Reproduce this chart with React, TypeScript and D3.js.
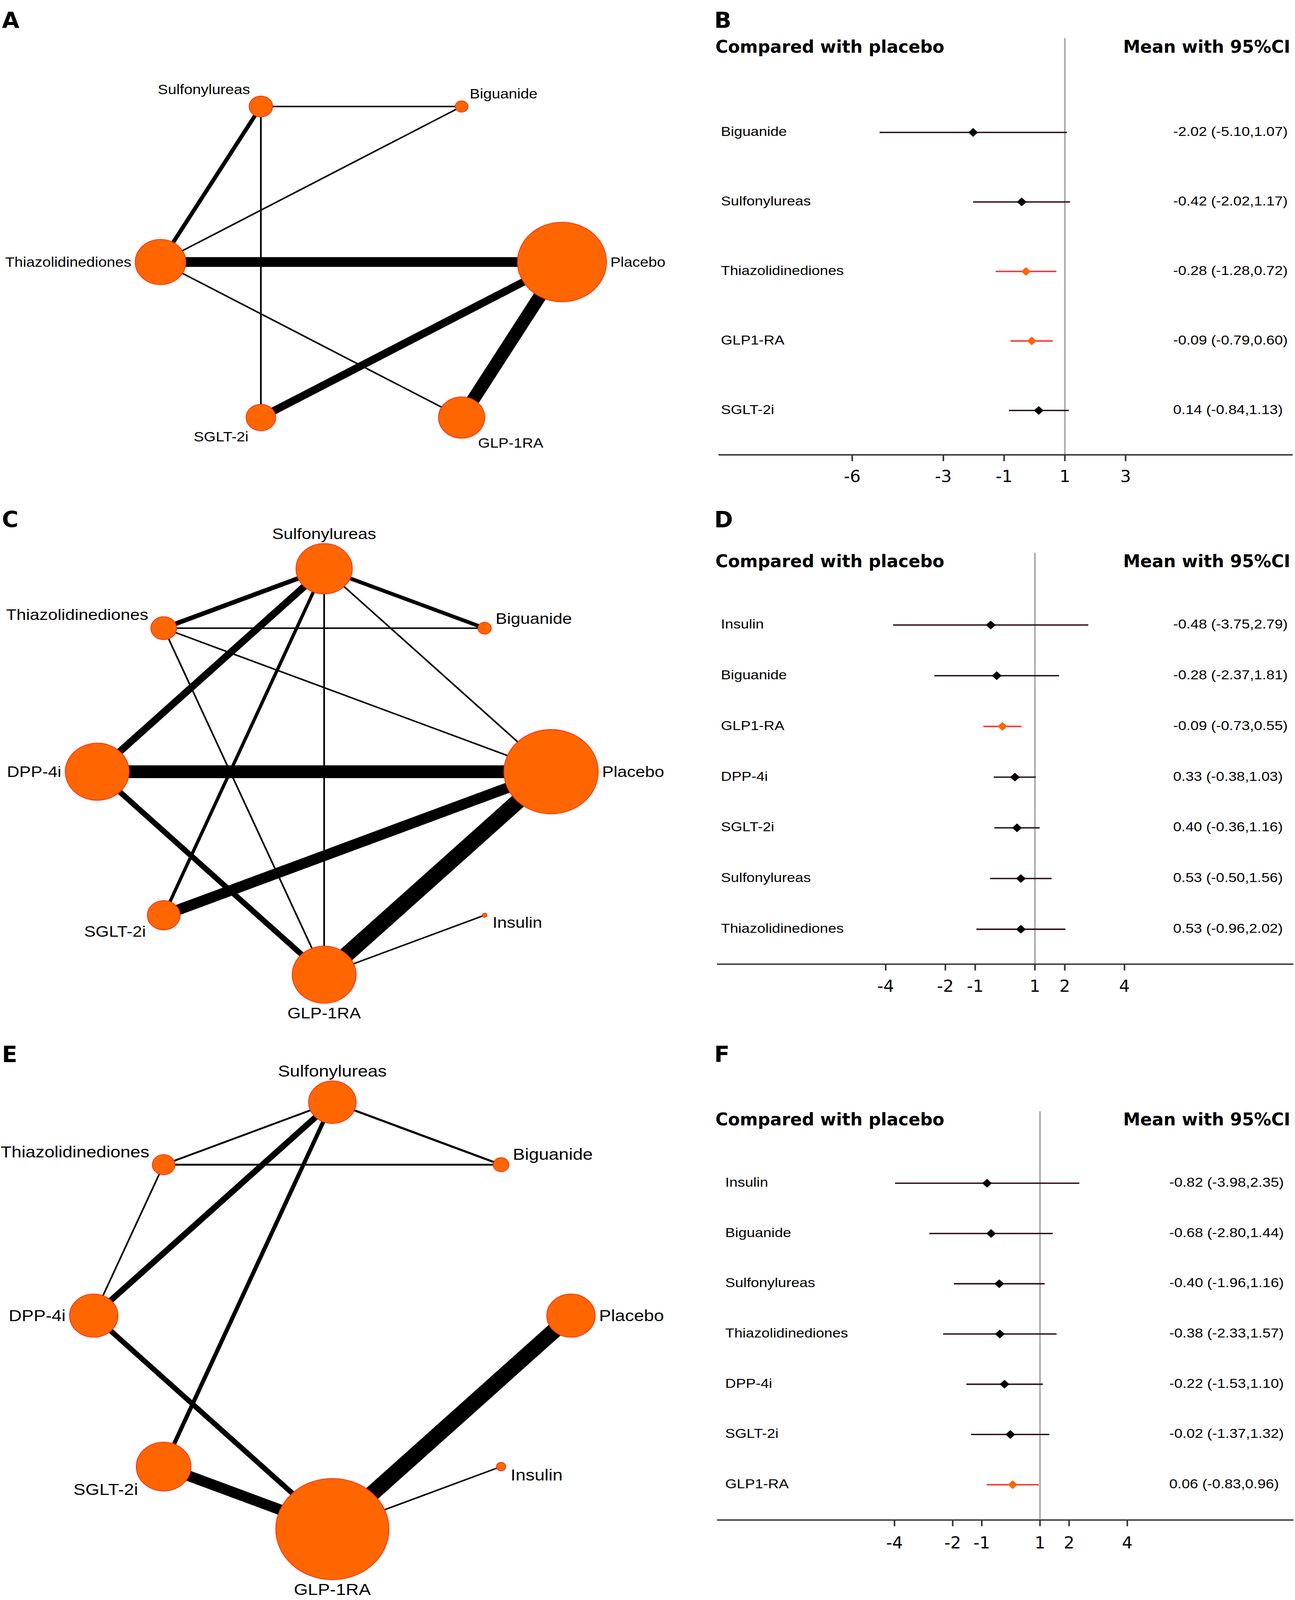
import React from 'react';
import * as d3 from 'd3';

// ---------- network plots (nodes go round the circle counter-clockwise from 3 o'clock) ----------
const netANodes = ['Placebo', 'Biguanide', 'Sulfonylureas', 'Thiazolidinediones', 'SGLT-2i', 'GLP-1RA'];
const netASize = [130, 2.6, 9, 42, 14.4, 35];
const netAFrom = ['Sulfonylureas', 'Sulfonylureas', 'Sulfonylureas', 'Biguanide', 'Thiazolidinediones', 'Thiazolidinediones', 'SGLT-2i', 'GLP-1RA'];
const netATo = ['Biguanide', 'Thiazolidinediones', 'SGLT-2i', 'Thiazolidinediones', 'Placebo', 'GLP-1RA', 'Placebo', 'Placebo'];
const netAWeight = [1, 2.5, 1, 1, 6.5, 1, 5, 8];

const netCNodes = ['Placebo', 'Biguanide', 'Sulfonylureas', 'Thiazolidinediones', 'DPP-4i', 'SGLT-2i', 'GLP-1RA', 'Insulin'];
const netCSize = [146, 2.9, 52, 10.9, 67, 17.6, 67, 0.36];
const netCFrom = ['Sulfonylureas', 'Sulfonylureas', 'Sulfonylureas', 'Sulfonylureas', 'Sulfonylureas', 'Sulfonylureas', 'Thiazolidinediones', 'Thiazolidinediones', 'Thiazolidinediones', 'DPP-4i', 'DPP-4i', 'SGLT-2i', 'GLP-1RA', 'GLP-1RA'];
const netCTo = ['Thiazolidinediones', 'Biguanide', 'DPP-4i', 'SGLT-2i', 'GLP-1RA', 'Placebo', 'Biguanide', 'Placebo', 'GLP-1RA', 'Placebo', 'GLP-1RA', 'Placebo', 'Placebo', 'Insulin'];
const netCWeight = [3, 2.5, 4.5, 2, 1, 1, 1, 1, 1, 8.5, 3.5, 7, 10, 1];

const netENodes = ['Placebo', 'Biguanide', 'Sulfonylureas', 'Thiazolidinediones', 'DPP-4i', 'SGLT-2i', 'GLP-1RA', 'Insulin'];
const netESize = [38.4, 4, 37, 8.4, 38.4, 49, 210, 1.44];
const netEFrom = ['Sulfonylureas', 'Sulfonylureas', 'Sulfonylureas', 'Sulfonylureas', 'Thiazolidinediones', 'Thiazolidinediones', 'DPP-4i', 'SGLT-2i', 'GLP-1RA', 'GLP-1RA'];
const netETo = ['Thiazolidinediones', 'Biguanide', 'DPP-4i', 'SGLT-2i', 'Biguanide', 'DPP-4i', 'GLP-1RA', 'GLP-1RA', 'Placebo', 'Insulin'];
const netEWeight = [1.2, 1.4, 3.8, 2.5, 1.2, 1, 3.3, 7, 10, 1];

// ---------- forest plots ----------
const forestBLabels = ['Biguanide', 'Sulfonylureas', 'Thiazolidinediones', 'GLP1-RA', 'SGLT-2i'];
const forestBMean = [-2.02, -0.42, -0.28, -0.09, 0.14];
const forestBLow = [-5.10, -2.02, -1.28, -0.79, -0.84];
const forestBHigh = [1.07, 1.17, 0.72, 0.60, 1.13];
const forestBRed = [false, false, true, true, false];
const forestBTicks = [-6, -3, -1, 1, 3];
const forestBDomain = [-10.4, 8.5];

const forestDLabels = ['Insulin', 'Biguanide', 'GLP1-RA', 'DPP-4i', 'SGLT-2i', 'Sulfonylureas', 'Thiazolidinediones'];
const forestDMean = [-0.48, -0.28, -0.09, 0.33, 0.40, 0.53, 0.53];
const forestDLow = [-3.75, -2.37, -0.73, -0.38, -0.36, -0.50, -0.96];
const forestDHigh = [2.79, 1.81, 0.55, 1.03, 1.16, 1.56, 2.02];
const forestDRed = [false, false, true, false, false, false, false];
const forestDTicks = [-4, -2, -1, 1, 2, 4];
const forestDDomain = [-9.65, 9.66];

const forestFLabels = ['Insulin', 'Biguanide', 'Sulfonylureas', 'Thiazolidinediones', 'DPP-4i', 'SGLT-2i', 'GLP1-RA'];
const forestFMean = [-0.82, -0.68, -0.40, -0.38, -0.22, -0.02, 0.06];
const forestFLow = [-3.98, -2.80, -1.96, -2.33, -1.53, -1.37, -0.83];
const forestFHigh = [2.35, 1.44, 1.16, 1.57, 1.10, 1.32, 0.96];
const forestFRed = [false, false, false, false, false, false, true];
const forestFTicks = [-4, -2, -1, 1, 2, 4];
const forestFDomain = [-10.1, 9.71];

const ORANGE = '#ff6600';
const BOLD = "'DejaVu Sans Condensed', 'DejaVu Sans', sans-serif";
const SANS = "'Liberation Sans', Arial, sans-serif";

const Network = ({ nodes, sizes, from, to, weights, cx, cy, R, fontSize, letter, letterY }: any) => {
    const angle = d3.scaleLinear().domain([0, nodes.length]).range([0, 2 * Math.PI]);
    const rScale = d3.scaleSqrt().domain([0, 100]).range([0, 100]);
    const wScale = d3.scaleLinear().domain([0, 1]).range([0, 4.3]);

    const pos = new Map();
    nodes.forEach((n: string, i: number) => {
        const a = angle(i);
        pos.set(n, { x: cx + R * Math.cos(a), y: cy - R * Math.sin(a), a, r: rScale(sizes[i]) });
    });

    return (
        <g>
            <text x={5} y={letterY} fontFamily={BOLD} fontWeight="bold" fontSize={64} fontStretch="condensed" dominantBaseline="central">{letter}</text>
            {from.map((f: string, i: number) => {
                const s = pos.get(f);
                const t = pos.get(to[i]);
                return <line key={i} x1={s.x} y1={s.y} x2={t.x} y2={t.y} stroke="#000" strokeWidth={wScale(weights[i])} />;
            })}
            {nodes.map((n: string) => {
                const p = pos.get(n);
                return <circle key={n} cx={p.x} cy={p.y} r={p.r} fill={ORANGE} stroke="#ff2a10" strokeWidth={2} />;
            })}
            {nodes.map((n: string) => {
                const p = pos.get(n);
                const c = Math.cos(p.a);
                const s = Math.sin(p.a);
                const gap = 10 + 18 * Math.abs(s);
                const anchor = c > 0.2 ? 'start' : c < -0.2 ? 'end' : 'middle';
                return (
                    <text key={n} x={p.x + (p.r + gap) * c} y={p.y - (p.r + gap) * s}
                        fontFamily={SANS} fontSize={fontSize} textAnchor={anchor} dominantBaseline="central">{n}</text>
                );
            })}
        </g>
    );
};

const Forest = ({ labels, mean, low, high, red, ticks, domain, x0, x1, rows, axisY, refTop, titleY, letter, letterY, labelX, valueX, tickY }: any) => {
    const x = d3.scaleLinear().domain(domain).range([x0, x1]);
    const y = d3.scalePoint().domain(labels).range(rows);
    const diamond = d3.symbol().type(d3.symbolSquare).size(313)();

    return (
        <g>
            <text x={1829} y={letterY} fontFamily={BOLD} fontWeight="bold" fontSize={64} fontStretch="condensed" dominantBaseline="central">{letter}</text>
            <text x={1832} y={titleY} fontFamily={BOLD} fontWeight="bold" fontSize={49} fontStretch="condensed" dominantBaseline="central">Compared with placebo</text>
            <text x={3304} y={titleY} fontFamily={BOLD} fontWeight="bold" fontSize={49} fontStretch="condensed" textAnchor="end" dominantBaseline="central">Mean with 95%CI</text>
            <line x1={x(1)} x2={x(1)} y1={refTop} y2={axisY} stroke="#a8a8a8" strokeWidth={4} />
            {labels.map((l: string, i: number) => (
                <g key={l}>
                    <text x={labelX} y={y(l) - 3} fontFamily={SANS} fontSize={38} dominantBaseline="central">{l}</text>
                    <line x1={x(low[i])} x2={x(high[i])} y1={y(l)} y2={y(l)} stroke={red[i] ? '#ff3333' : '#2e0d16'} strokeWidth={4} />
                    <path d={diamond} transform={`translate(${x(mean[i])},${y(l)}) rotate(45)`} fill={red[i] ? ORANGE : '#000'} />
                    <text x={valueX} y={y(l) - 3} fontFamily={SANS} fontSize={38} dominantBaseline="central">
                        {`${mean[i].toFixed(2)} (${low[i].toFixed(2)},${high[i].toFixed(2)})`}
                    </text>
                </g>
            ))}
            <line x1={x0} x2={x1} y1={axisY} y2={axisY} stroke="#333" strokeWidth={4} />
            {ticks.map((t: number) => (
                <g key={t}>
                    <line x1={x(t)} x2={x(t)} y1={axisY} y2={axisY + 18} stroke="#333" strokeWidth={4} />
                    <text x={x(t)} y={tickY} fontFamily={BOLD} fontSize={48} fontStretch="condensed" textAnchor="middle" dominantBaseline="central">{t}</text>
                </g>
            ))}
        </g>
    );
};

export default function App() {
    // the browser viewport is shorter than the 4580px figure, so the whole figure is fitted into it
    return (
        <svg viewBox="0 0 3316 4580" preserveAspectRatio="none"
            style={{ position: 'absolute', left: 0, top: 0, width: '100vw', height: '100vh', display: 'block', background: '#fff' }}>
            <rect width={3316} height={4580} fill="#fff" />
            <Network nodes={netANodes} sizes={netASize} from={netAFrom} to={netATo} weights={netAWeight}
                cx={925} cy={750} R={514} fontSize={39} letter="A" letterY={58} />
            <Network nodes={netCNodes} sizes={netCSize} from={netCFrom} to={netCTo} weights={netCWeight}
                cx={830} cy={2209} R={581} fontSize={44} letter="C" letterY={1487} />
            <Network nodes={netENodes} sizes={netESize} from={netEFrom} to={netETo} weights={netEWeight}
                cx={851} cy={3766} R={611} fontSize={46} letter="E" letterY={3018} />

            <Forest labels={forestBLabels} mean={forestBMean} low={forestBLow} high={forestBHigh} red={forestBRed}
                ticks={forestBTicks} domain={forestBDomain} x0={1840} x1={3310} rows={[379, 1175]}
                axisY={1302} refTop={109} titleY={134} letter="B" letterY={58} labelX={1846} valueX={3004} tickY={1364} />
            <Forest labels={forestDLabels} mean={forestDMean} low={forestDLow} high={forestDHigh} red={forestDRed}
                ticks={forestDTicks} domain={forestDDomain} x0={1836} x1={3312} rows={[1789, 2660]}
                axisY={2760} refTop={1582} titleY={1607} letter="D" letterY={1487} labelX={1846} valueX={3004} tickY={2823} />
            <Forest labels={forestFLabels} mean={forestFMean} low={forestFLow} high={forestFHigh} red={forestFRed}
                ticks={forestFTicks} domain={forestFDomain} x0={1836} x1={3312} rows={[3387, 4250]}
                axisY={4351} refTop={3181} titleY={3205} letter="F" letterY={3018} labelX={1857} valueX={2994} tickY={4416} />
        </svg>
    );
}
